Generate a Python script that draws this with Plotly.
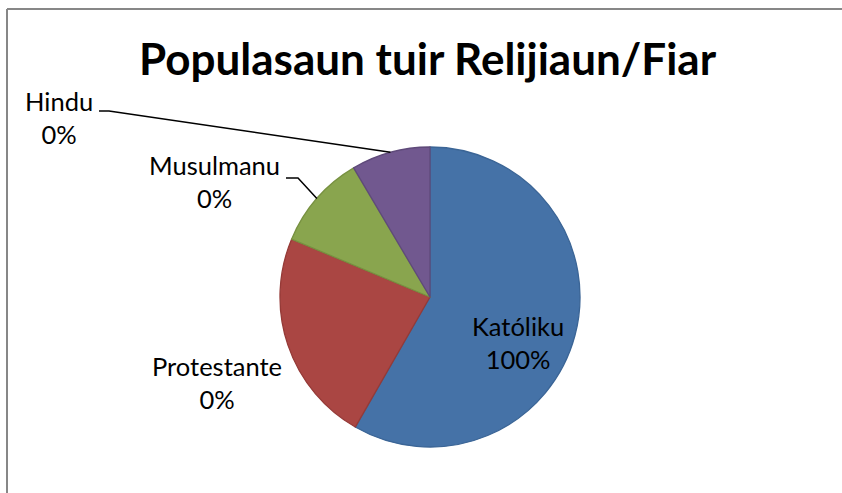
import math
import plotly.graph_objects as go

# ---- data ----
categories = ["Katóliku", "Protestante", "Musulmanu", "Hindu"]
slice_values = [58.3, 23.0, 10.2, 8.5]
shown_percent = ["100%", "0%", "0%", "0%"]
colors = ["#4572A7", "#AA4643", "#89A54E", "#71588F"]
edge_colors = ["#3B6596", "#953A37", "#779140", "#5F4A7A"]
title_text = "Populasaun tuir Relijiaun/Fiar"

W, H = 842, 493
CX, CY, R = 430, 297, 150
FONT = "Lato, 'Open Sans', sans-serif"


def px(x):
    return x / W


def py(y):
    return 1 - y / H


fig = go.Figure(go.Pie(
    labels=categories,
    values=slice_values,
    sort=False,
    direction="clockwise",
    rotation=0,
    textinfo="none",
    hoverinfo="label+percent",
    marker=dict(colors=colors, line=dict(color=edge_colors, width=1.3)),
    domain=dict(x=[px(CX - R), px(CX + R)], y=[py(CY + R), py(CY - R)]),
    showlegend=False,
))

# label placement (pixel positions of label centres) and leader-line elbows
label_pos = {
    "Katóliku": (518, 342, None),
    "Protestante": (217, 382, None),
    "Musulmanu": (214, 181, (286, 298, 178)),
    "Hindu": (59, 118, (99, 109, 111)),
}

total = sum(slice_values)
cum = 0.0
shapes = []
annotations = []
for cat, val, pct in zip(categories, slice_values, shown_percent):
    mid = (cum + val / 2) / total * 2 * math.pi
    cum += val
    lx, ly, leader = label_pos[cat]
    annotations.append(dict(
        x=px(lx), y=py(ly), xref="paper", yref="paper",
        text=f"{cat}<br>{pct}", showarrow=False, align="center",
        xanchor="center", yanchor="middle",
        font=dict(family=FONT, size=25.5, color="#000000"),
    ))
    if leader:
        x0, x1, yl = leader
        ex = CX + R * math.sin(mid)
        ey = CY - R * math.cos(mid)
        path = (f"M {px(x0)} {py(yl)} L {px(x1)} {py(yl)} "
                f"L {px(ex)} {py(ey)}")
        shapes.append(dict(type="path", xref="paper", yref="paper", path=path,
                           line=dict(color="#000000", width=1.5)))

# outer chart border: only the left and top edges fall inside the picture
border = dict(color="#878787", width=2)
shapes.append(dict(type="line", xref="paper", yref="paper",
                   x0=px(7), x1=px(7), y0=0, y1=py(9), line=border, layer="above"))
shapes.append(dict(type="line", xref="paper", yref="paper",
                   x0=px(7), x1=1, y0=py(9), y1=py(9), line=border, layer="above"))

annotations.append(dict(
    x=px(428), y=py(58), xref="paper", yref="paper",
    text=f"<b>{title_text}</b>", showarrow=False,
    xanchor="center", yanchor="middle",
    font=dict(family=FONT, size=44, color="#000000"),
))

fig.update_layout(
    width=W, height=H,
    margin=dict(l=0, r=0, t=0, b=0),
    paper_bgcolor="#FFFFFF",
    plot_bgcolor="#FFFFFF",
    shapes=shapes,
    annotations=annotations,
)

fig.write_html("out.html", config={"displayModeBar": False})

# remove the default page margin so the figure fills the window exactly
with open("out.html", encoding="utf-8") as f:
    html = f.read()
html = html.replace("<html>", '<html style="overflow:hidden">', 1)
html = html.replace("<body>", '<body style="margin:0;overflow:hidden">', 1)
with open("out.html", "w", encoding="utf-8") as f:
    f.write(html)
